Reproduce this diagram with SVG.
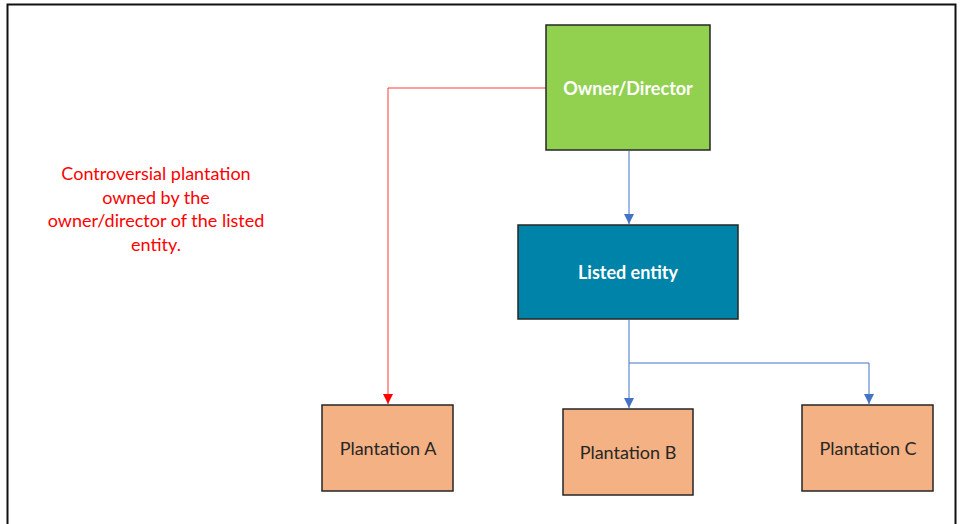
<svg xmlns="http://www.w3.org/2000/svg" width="961" height="524" viewBox="0 0 961 524">
<style>
.box{stroke:#262626;stroke-width:1.5}
.lbl{font-family:Lato,"Open Sans","Liberation Sans",sans-serif;font-size:18px;text-anchor:middle;dominant-baseline:central}
.w{fill:#FFFFFF;font-weight:bold}
.d{fill:#262626}
.blue{stroke:#4472C4;stroke-width:1;fill:none}
.red{stroke:#FF3B3B;stroke-width:1;fill:none}
</style>
<defs>
<marker id="ab" markerWidth="10" markerHeight="10" refX="10" refY="5" orient="auto" markerUnits="userSpaceOnUse" viewBox="0 0 10 10">
<path d="M0,0 L10,5 L0,10 Z" fill="#4472C4"/>
</marker>
<marker id="ar" markerWidth="10" markerHeight="10" refX="10" refY="5" orient="auto" markerUnits="userSpaceOnUse" viewBox="0 0 10 10">
<path d="M0,0 L10,5 L0,10 Z" fill="#FF0000"/>
</marker>
</defs>
<rect width="961" height="524" fill="#FFFFFF"/>
<path d="M7.5,524 V4.5 H955.5 V524" fill="none" stroke="#111" stroke-width="2"/>
<g id="connectors">
<path class="blue" d="M629,151 V224" marker-end="url(#ab)"/>
<path class="blue" d="M629,320 V408" marker-end="url(#ab)"/>
<path class="blue" d="M629,363 H869 V404" marker-end="url(#ab)"/>
<path class="red" d="M546,88 H388 V404" marker-end="url(#ar)"/>
</g>
<g id="owner">
<rect class="box" x="546" y="25" width="164" height="125" fill="#92D050"/>
<text class="lbl w" x="628" y="88">Owner/Director</text>
</g>
<g id="listed">
<rect class="box" x="518" y="225" width="220" height="94" fill="#0083A8"/>
<text class="lbl w" x="628" y="272">Listed entity</text>
</g>
<g id="plantA">
<rect class="box" x="322" y="405" width="131" height="86" fill="#F4B183"/>
<text class="lbl d" x="388" y="448">Plantation A</text>
</g>
<g id="plantB">
<rect class="box" x="563" y="409" width="130" height="86" fill="#F4B183"/>
<text class="lbl d" x="628" y="452">Plantation B</text>
</g>
<g id="plantC">
<rect class="box" x="802" y="405" width="131" height="86" fill="#F4B183"/>
<text class="lbl d" x="868" y="448">Plantation C</text>
</g>
<g id="note" class="lbl">
<text x="156" y="173" fill="#FF0000">Controversial plantation</text>
<text x="156" y="197" fill="#FF0000">owned by the</text>
<text x="156" y="220" fill="#FF0000">owner/director of the listed</text>
<text x="156" y="244" fill="#FF0000">entity.</text>
</g>
</svg>
